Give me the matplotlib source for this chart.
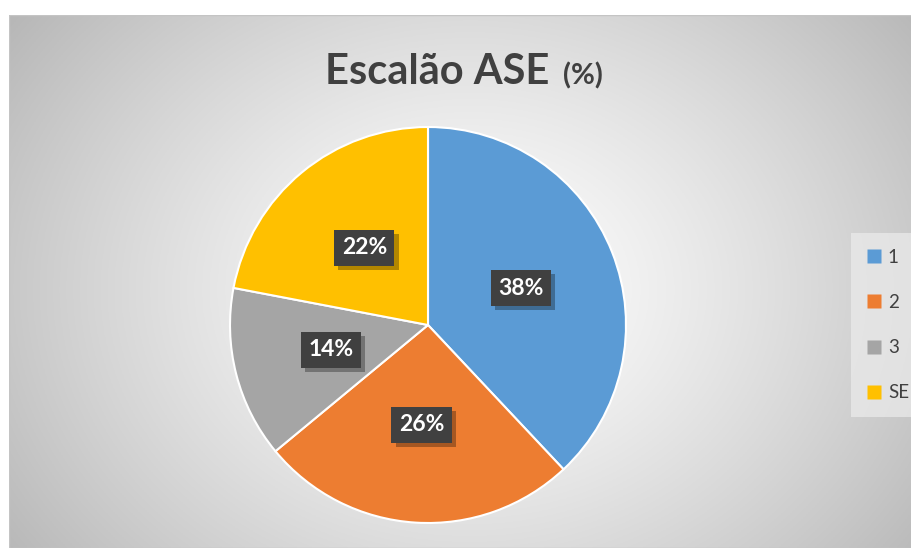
import numpy as np
import matplotlib
matplotlib.use("Agg")
import matplotlib.pyplot as plt
from matplotlib.patches import Rectangle
from matplotlib.lines import Line2D
import matplotlib.patheffects as pe

categories = ["1", "2", "3", "SE"]
values = [38, 26, 14, 22]
colors = ["#5B9BD5", "#ED7D31", "#A5A5A5", "#FFC000"]
title_main = "Escalão ASE"
title_unit = "(%)"

W, H = 912, 548
fig = plt.figure(figsize=(W / 100, H / 100), dpi=100)
fig.patch.set_facecolor("white")
plt.rcParams['font.family'] = ['Lato', 'DejaVu Sans']

# background panel with radial gradient
px0, py0 = 9, 15
bg = fig.add_axes([px0 / W, 0, 1 - px0 / W, 1 - py0 / H])
bg.set_axis_off()
nx, ny = 400, 240
xs = np.linspace(px0, W, nx)
ys = np.linspace(py0, H, ny)
X, Y = np.meshgrid(xs, ys)
cx, cy = 470, 290
d = np.sqrt(((X - cx) / 520) ** 2 + ((Y - cy) / 420) ** 2)
val = 1.0 - 0.25 * np.clip(d, 0, 1.2) ** 1.3
img = np.dstack([val, val, val])
bg.imshow(img, extent=[0, 1, 0, 1], aspect='auto', origin='upper')
bg.set_xlim(0, 1)
bg.set_ylim(0, 1)
bg.add_patch(Rectangle((0, 0), 1, 1, fill=False, edgecolor="#c4c4c4", lw=1.0,
                       transform=bg.transAxes))

# pie
cxp, cyp, R = 428, 325, 198
ax = fig.add_axes([(cxp - R) / W, (H - cyp - R) / H, 2 * R / W, 2 * R / H])
ax.set_axis_off()
wedges, texts, autotexts = ax.pie(values, colors=colors, startangle=90, counterclock=False,
                                  autopct='%1.0f%%', pctdistance=0.505,
                                  wedgeprops=dict(edgecolor='white', linewidth=1.5),
                                  textprops=dict(color='white', fontsize=16.5, fontweight='bold'))
ax.set_xlim(-1, 1)
ax.set_ylim(-1, 1)
ax.set_aspect('equal')
for t in autotexts:
    t.set_bbox(dict(boxstyle='square,pad=0.33', facecolor='#404040', edgecolor='none'))
    t.get_bbox_patch().set_path_effects([
        pe.SimplePatchShadow(offset=(3, -3), shadow_rgbFace='black', alpha=0.3),
        pe.Normal()])
    t.set_zorder(4)

# title
fig.text(549 / W, 1 - 84 / H, title_main, ha='right', va='baseline', fontsize=30,
         fontweight='bold', color='#404040')
fig.text(563 / W, 1 - 84 / H, title_unit, ha='left', va='baseline', fontsize=21,
         fontweight='bold', color='#404040')

# legend
handles = [Line2D([0], [0], marker='s', linestyle='none', markersize=10,
                  markerfacecolor=c, markeredgecolor='none') for c in colors]
leg = fig.legend(handles, categories, loc='center left', bbox_to_anchor=(842 / W, 1 - 325 / H),
                 frameon=True, fontsize=13.5, labelspacing=1.5, handlelength=0.75,
                 handletextpad=0.35, borderpad=0.85, fancybox=False)
leg.get_frame().set_facecolor('#ececec')
leg.get_frame().set_edgecolor('none')
leg.get_frame().set_alpha(0.7)
for t in leg.get_texts():
    t.set_color('#404040')

fig.savefig("out.png", dpi=100)
